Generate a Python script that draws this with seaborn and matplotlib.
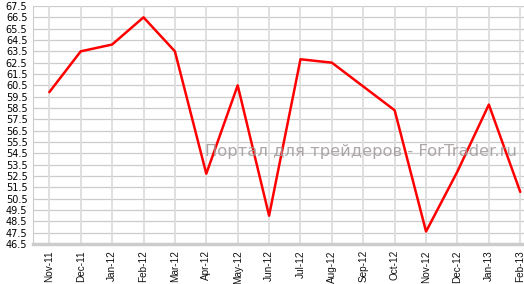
import matplotlib
matplotlib.use("Agg")
import matplotlib.pyplot as plt
import seaborn as sns
import pandas as pd
import numpy as np

months = ["Nov-11", "Dec-11", "Jan-12", "Feb-12", "Mar-12", "Apr-12", "May-12", "Jun-12",
          "Jul-12", "Aug-12", "Sep-12", "Oct-12", "Nov-12", "Dec-12", "Jan-13", "Feb-13"]
values = [59.9, 63.5, 64.1, 66.5, 63.5, 52.7, 60.5, 49.0,
          62.8, 62.5, 60.4, 58.3, 47.6, 52.9, 58.8, 51.1]
yticks = [46.5 + i for i in range(22)]

sns.set_style("white")
plt.rcParams['font.family'] = ['DejaVu Sans']

fig = plt.figure(figsize=(5.24, 2.84), dpi=100)
ax = fig.add_axes([33/524, 40/284, (524-33)/524, 238/284])

df = pd.DataFrame({"x": np.arange(len(months)), "v": values})
sns.lineplot(data=df, x="x", y="v", ax=ax, color="#ff0000", linewidth=1.8, zorder=5)

ax.set_xlim(-0.52, 15.12)
ax.set_ylim(46.5, 67.5)
ax.set_yticks(yticks)
ax.set_yticklabels([f"{t:.1f}" for t in yticks], fontsize=7, color="#000000")
ax.set_xticks(range(len(months)))
ax.set_xticklabels(months, rotation=90, fontsize=7.2, color="#111111",
                   family=["Liberation Sans", "DejaVu Sans"])
ax.set_xlabel("")
ax.set_ylabel("")

ax.grid(False)
for t in yticks:
    ax.axhline(t, color="#cccccc", linewidth=0.9, zorder=1)
for i in range(len(months)):
    ax.axvline(i, color="#dddddd", linewidth=1.3, zorder=1)

for s in ["top", "right"]:
    ax.spines[s].set_visible(False)
ax.spines["bottom"].set_color("#cccccc")
ax.spines["bottom"].set_linewidth(2.5)
ax.spines["left"].set_color("#cccccc")
ax.spines["left"].set_linewidth(0.8)
ax.tick_params(axis="y", length=3, width=0.8, color="#aaaaaa", pad=1)
ax.tick_params(axis="x", length=3, width=0.8, color="#aaaaaa", pad=1.5)

ax.text(0.986, 0.387, "Портал для трейдеров - ForTrader.ru", transform=ax.transAxes,
        ha="right", va="center", fontsize=11.8, color="#a09898", alpha=0.85, zorder=6)

fig.savefig("out.png", dpi=100)
